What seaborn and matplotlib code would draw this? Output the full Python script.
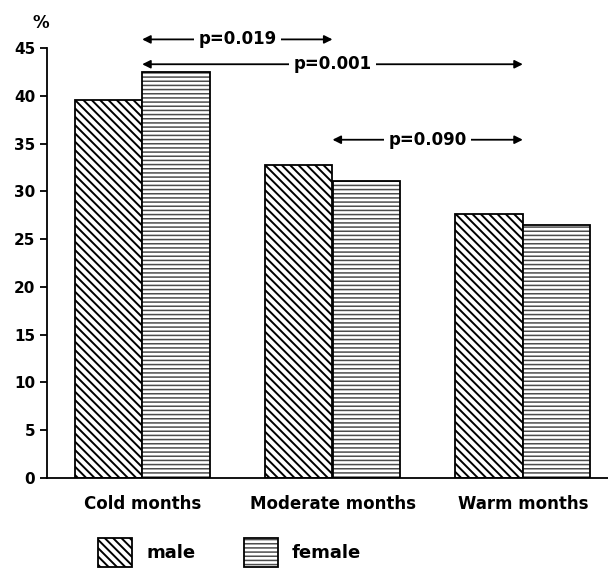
import pandas as pd
import numpy as np
import matplotlib.pyplot as plt
import seaborn as sns
from matplotlib.patches import Patch

months = ["Cold months", "Moderate months", "Warm months"]
male = [39.6, 32.8, 27.6]
female = [42.5, 31.1, 26.5]
# comparisons: (from group, to group, y level, label)
pvals = [(0, 1, 45.9, "p=0.019"), (0, 2, 43.3, "p=0.001"), (1, 2, 35.4, "p=0.090")]

df = pd.DataFrame({
    "month": months * 2,
    "sex": ["male"] * 3 + ["female"] * 3,
    "pct": male + female,
})

sns.set_style("white")
plt.rcParams["font.family"] = ["DejaVu Sans"]
plt.rcParams["font.weight"] = "bold"
plt.rcParams["text.color"] = "black"
plt.rcParams["xtick.color"] = "black"
plt.rcParams["ytick.color"] = "black"

hatches = ["\\\\\\\\", "----"]
hatch_lw = [1.4, 1.1]
hatch_col = [(0, 0, 0, 1), (0.3, 0.3, 0.3, 1)]


def style_patch(p, h, hl, hc):
    # hatch width/colour per patch (private attrs, drawn via rc_context too)
    p.set_hatch(h)
    if hasattr(p, "set_hatch_linewidth"):
        p.set_hatch_linewidth(hl)
    p._hatch_linewidth = hl
    p._hatch_color = hc
    orig = p.draw

    def draw(renderer, _orig=orig, _hl=hl):
        with plt.rc_context({"hatch.linewidth": _hl}):
            _orig(renderer)
    p.draw = draw


fig = plt.figure(figsize=(6.08, 5.68), dpi=100)
ax = fig.add_axes([47 / 608, 90 / 568, 571 / 608, 430 / 568])

sns.barplot(data=df, x="month", y="pct", hue="sex", palette=["white", "white"],
            edgecolor="black", linewidth=1.3, width=0.71, legend=False, ax=ax)

for cont, h, hl, hc in zip(ax.containers, hatches, hatch_lw, hatch_col):
    for bar in cont:
        style_patch(bar, h, hl, hc)

ax.set_ylim(0, 45)
ax.set_xlim(-0.5, 2.5)
ax.set_yticks(range(0, 46, 5))
ax.set_xlabel("")
ax.set_ylabel("")
ax.set_xticks([0.5, 1.5], minor=True)
ax.tick_params(axis="x", which="major", length=0, pad=12, labelsize=12)
ax.tick_params(axis="x", which="minor", length=4, width=1.3, direction="out")
ax.tick_params(axis="y", length=5, width=1.3, direction="out", labelsize=11, left=True)
for lab in ax.get_xticklabels() + ax.get_yticklabels():
    lab.set_fontweight("bold")
sns.despine(ax=ax, right=True, top=True)
for s in ["left", "bottom"]:
    ax.spines[s].set_color("black")
    ax.spines[s].set_linewidth(1.3)

ax.text(-0.535, 46.7, "%", ha="center", va="bottom", fontsize=12, fontweight="bold")

for x0, x1, y, lab in pvals:
    ax.annotate("", xy=(x0, y), xytext=(x1, y), xycoords="data",
                arrowprops=dict(arrowstyle="<|-|>", color="black", lw=1.3,
                                shrinkA=0, shrinkB=0, mutation_scale=12),
                annotation_clip=False)
    ax.text((x0 + x1) / 2, y, lab, ha="center", va="center", fontsize=12,
            fontweight="bold", clip_on=False,
            bbox=dict(facecolor="white", edgecolor="none", pad=3))

handles = [Patch(facecolor="white", edgecolor="black", lw=1.3) for h in hatches]
leg = fig.legend(handles, ["male", "female"], loc="center", bbox_to_anchor=(0.378, 0.027),
                 ncol=2, frameon=False, handlelength=1.85, handleheight=2.1,
                 handletextpad=0.8, columnspacing=2.7, prop={"weight": "bold", "size": 13})
for p, h, hl, hc in zip(leg.get_patches(), hatches, hatch_lw, hatch_col):
    style_patch(p, h, hl, hc)

fig.savefig("out.png", dpi=100)
